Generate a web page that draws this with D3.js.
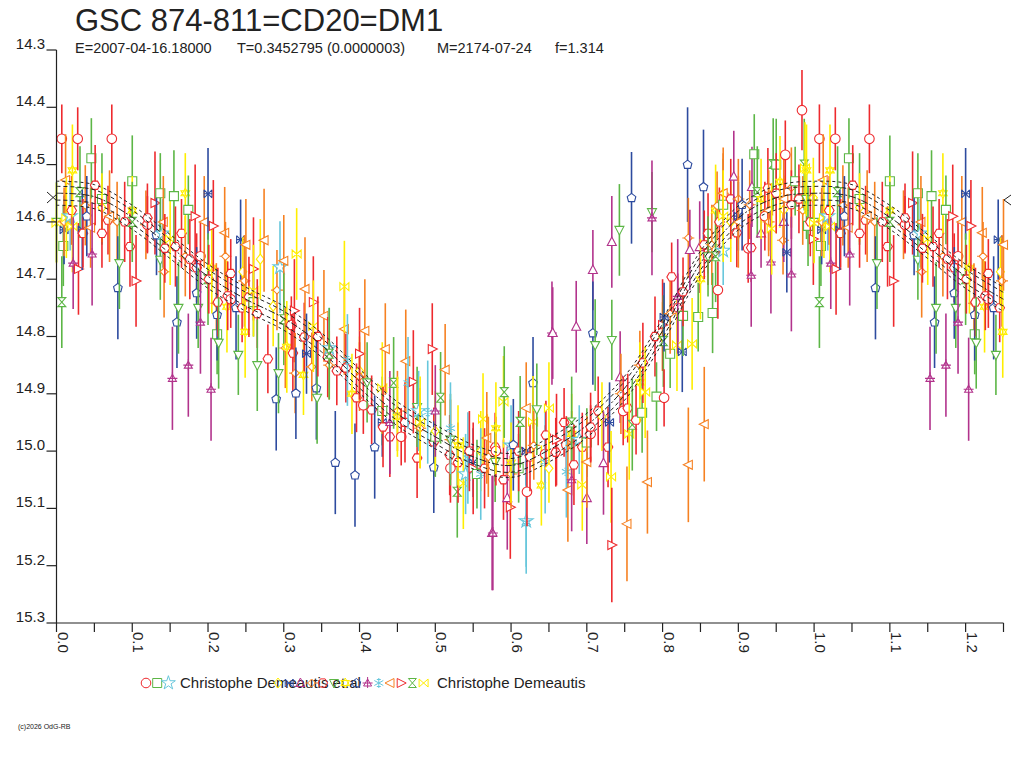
<!doctype html>
<html>
<head>
<meta charset="utf-8">
<script src="https://cdnjs.cloudflare.com/ajax/libs/d3/7.8.5/d3.min.js"></script>
<style>
  body { margin: 0; background: #fff; }
  text { font-family: "Liberation Sans", Arial, sans-serif; fill: #222; }
  .tick-lbl { font-size: 15px; }
</style>
</head>
<body>
<svg id="chart" width="1024" height="768"></svg>
<script>
// ---- data: [phase, mag, error] ----
var redCircle = [[0.007,14.455,0.06],[0.028,14.455,0.055],[0.073,14.455,0.06],[0.984,14.405,0.07],[0.962,14.483,0.06],[0.873,14.719,0.05],[0.913,14.646,0.06],[0.621,15.071,0.06],[0.802,14.907,0.05],[0.673,14.989,0.05],[0.58,15.0,0.06],[0.455,14.975,0.05],[0.31,14.78,0.05],[0.19,14.66,0.06],[0.12,14.605,0.05],[0.52,15.03,0.06],[0.705,14.97,0.05],[0.748,14.93,0.06],[0.405,14.92,0.05],[0.935,14.59,0.06],[0.645,15.005,0.05],[0.86,14.66,0.05],[0.23,14.735,0.05]];
var greenSquare = [[0.046,14.489,0.07],[0.1,14.529,0.08],[0.137,14.55,0.07],[0.155,14.555,0.08],[0.174,14.579,0.06],[0.009,14.642,0.07],[0.921,14.482,0.07],[0.975,14.529,0.06],[0.992,14.607,0.07],[0.827,14.764,0.07],[0.847,14.766,0.06],[0.866,14.759,0.07],[0.81,14.83,0.06],[0.773,14.933,0.07],[0.792,14.905,0.06],[0.212,14.796,0.07],[0.26,14.74,0.06],[0.5,14.975,0.07],[0.61,15.03,0.06],[0.555,15.04,0.06],[0.7,14.985,0.06],[0.43,14.93,0.06],[0.88,14.57,0.08],[0.95,14.5,0.08],[0.06,14.56,0.08]];
var cyanStar = [[0.295,14.679,0.08],[0.62,15.122,0.08],[0.478,14.93,0.07],[0.018,14.59,0.06],[0.36,14.82,0.07],[0.54,15.04,0.07],[0.69,14.98,0.06],[0.88,14.65,0.06],[0.14,14.62,0.06],[0.6,14.99,0.07]];
var yellowDiamond = [[0.269,14.665,0.07],[0.246,14.687,0.06],[0.286,14.747,0.07],[0.96,14.579,0.06],[0.999,14.558,0.07],[0.5,14.965,0.07],[0.4,14.86,0.06],[0.65,15.03,0.06],[0.2,14.7,0.06],[0.8,14.8,0.06],[0.06,14.575,0.06],[0.56,15.0,0.07],[0.72,14.94,0.06],[0.89,14.6,0.07]];
var blueX = [[0.2,14.551,0.08],[0.243,14.631,0.07],[0.01,14.614,0.06],[0.034,14.614,0.07],[0.964,14.653,0.07],[0.826,14.827,0.07],[0.802,14.766,0.06],[0.55,15.02,0.06],[0.43,14.95,0.06],[0.62,15.0,0.06],[0.33,14.83,0.07],[0.9,14.59,0.06],[0.73,14.95,0.07]];
var purpleTri = [[0.894,14.521,0.08],[0.918,14.539,0.07],[0.849,14.644,0.08],[0.836,14.649,0.07],[0.722,15.021,0.09],[0.7,15.082,0.08],[0.595,15.082,0.09],[0.744,14.871,0.08],[0.655,14.794,0.08],[0.686,14.783,0.08],[0.733,14.635,0.08],[0.708,14.684,0.07],[0.575,15.143,0.1],[0.93,14.62,0.06],[0.96,14.6,0.07]];
var orangeDiamond = [[0.038,14.571,0.07],[0.142,14.687,0.08],[0.291,14.719,0.07],[0.211,14.742,0.07],[0.248,14.703,0.08],[0.302,14.82,0.07],[0.337,14.853,0.06],[0.315,14.864,0.07],[0.872,14.572,0.06],[0.88,14.55,0.07],[0.915,14.57,0.06],[0.959,14.632,0.06],[0.834,14.628,0.07],[0.118,14.605,0.06],[0.223,14.66,0.06],[0.08,14.6,0.07],[0.45,14.93,0.07],[0.52,14.98,0.07],[0.63,14.99,0.06],[0.77,14.85,0.06],[0.4,14.87,0.06],[0.6,15.04,0.06],[0.985,14.58,0.06],[0.9,14.56,0.07],[0.94,14.6,0.06],[0.97,14.54,0.07],[0.01,14.6,0.06],[0.17,14.66,0.07],[0.36,14.85,0.06],[0.48,14.96,0.07],[0.57,15.01,0.07],[0.68,14.99,0.06],[0.745,14.9,0.07],[0.81,14.76,0.07],[0.865,14.64,0.07]];
var redHex = [[0.097,14.643,0.07],[0.12,14.593,0.06],[0.157,14.643,0.07],[0.143,14.646,0.06],[0.068,14.597,0.06],[0.051,14.536,0.07],[0.176,14.665,0.07],[0.201,14.7,0.06],[0.226,14.729,0.06],[0.254,14.731,0.07],[0.279,14.839,0.06],[0.312,14.829,0.07],[0.327,14.801,0.06],[0.358,14.836,0.07],[0.382,14.855,0.06],[0.416,14.928,0.06],[0.431,14.958,0.07],[0.396,14.907,0.06],[0.44,14.975,0.07],[0.476,15.012,0.07],[0.498,14.984,0.06],[0.519,15.007,0.07],[0.565,15.03,0.07],[0.579,14.993,0.06],[0.646,14.972,0.06],[0.659,15.002,0.06],[0.683,15.024,0.07],[0.694,14.993,0.06],[0.705,14.958,0.06],[0.728,14.993,0.07],[0.754,14.925,0.06],[0.765,14.946,0.06],[0.774,14.846,0.07],[0.812,14.696,0.06],[0.827,14.722,0.06],[0.898,14.619,0.06],[0.917,14.645,0.06],[0.939,14.541,0.07],[0.213,14.74,0.06],[0.23,14.69,0.06],[0.245,14.75,0.06],[0.02,14.58,0.06],[0.035,14.62,0.06],[0.545,15.0,0.07],[0.61,15.0,0.07],[0.98,14.56,0.06],[0.855,14.64,0.06],[0.86,14.62,0.07],[0.875,14.6,0.06],[0.89,14.56,0.07],[0.95,14.55,0.07],[0.97,14.57,0.06],[0.995,14.6,0.06],[0.06,14.62,0.06],[0.09,14.6,0.07],[0.165,14.62,0.06],[0.185,14.68,0.06],[0.265,14.76,0.06],[0.345,14.8,0.07],[0.37,14.86,0.06],[0.46,14.95,0.07],[0.53,15.02,0.07],[0.59,15.05,0.07],[0.625,15.01,0.06],[0.67,14.95,0.06],[0.715,14.93,0.06],[0.79,14.8,0.07],[0.82,14.75,0.06]];
var greenTriDown = [[0.161,14.75,0.08],[0.187,14.75,0.07],[0.214,14.811,0.08],[0.24,14.832,0.07],[0.265,14.85,0.08],[0.293,14.864,0.07],[0.344,14.907,0.08],[0.137,14.666,0.07],[0.083,14.672,0.08],[0.711,14.815,0.08],[0.733,14.806,0.07],[0.634,14.927,0.08],[0.579,15.019,0.07],[0.476,14.923,0.07],[0.743,14.614,0.08],[0.786,14.583,0.07],[0.52,14.98,0.08],[0.41,14.88,0.07],[0.86,14.66,0.07],[0.99,14.56,0.07],[0.0,14.6,0.07]];
var yellowStar = [[0.304,14.818,0.08],[0.326,14.867,0.07],[0.249,14.792,0.08],[0.225,14.748,0.08],[0.17,14.55,0.07],[0.021,14.51,0.08],[0.39,14.9,0.07],[0.45,14.94,0.07],[0.53,14.99,0.07],[0.6,15.02,0.07],[0.68,14.97,0.07],[0.77,14.88,0.07],[0.85,14.7,0.07],[0.93,14.56,0.07],[0.99,14.51,0.08],[0.1,14.58,0.06],[0.64,15.06,0.07],[0.87,14.58,0.08],[0.955,14.53,0.08],[0.205,14.68,0.08],[0.58,14.96,0.08]];
var bluePent = [[0.132,14.623,0.07],[0.185,14.724,0.08],[0.159,14.775,0.08],[0.212,14.762,0.08],[0.237,14.75,0.09],[0.29,14.909,0.09],[0.316,14.899,0.08],[0.343,14.89,0.09],[0.081,14.715,0.09],[0.394,15.042,0.09],[0.42,14.993,0.09],[0.498,15.028,0.08],[0.629,14.881,0.08],[0.708,14.794,0.09],[0.603,14.989,0.08],[0.759,14.558,0.08],[0.833,14.5,0.1],[0.854,14.539,0.1],[0.368,15.02,0.09],[0.04,14.59,0.07],[0.905,14.57,0.08]];
var purpleTrident = [[0.153,14.873,0.09],[0.174,14.85,0.09],[0.19,14.775,0.09],[0.204,14.892,0.09],[0.047,14.656,0.09],[0.022,14.672,0.08],[0.786,14.593,0.1],[0.943,14.67,0.09],[0.97,14.691,0.1],[0.917,14.693,0.09],[0.654,14.794,0.09],[0.576,15.143,0.1],[0.68,15.05,0.09],[0.5,14.93,0.08],[0.44,14.95,0.09],[0.82,14.73,0.1]];
var cyanAst = [[0.384,14.841,0.08],[0.464,14.881,0.08],[0.543,15.012,0.08],[0.62,15.124,0.09],[0.645,15.019,0.09],[0.673,15.036,0.08],[0.49,14.932,0.09],[0.52,14.96,0.08],[0.56,15.04,0.08]];
var orangeLeft = [[0.222,14.619,0.08],[0.274,14.632,0.09],[0.3,14.668,0.08],[0.328,14.717,0.09],[0.353,14.764,0.08],[0.38,14.787,0.08],[0.407,14.79,0.09],[0.434,14.822,0.08],[0.461,14.843,0.09],[0.513,14.858,0.08],[0.141,14.6,0.08],[0.195,14.6,0.08],[0.62,14.925,0.08],[0.568,14.977,0.08],[0.7,15.019,0.08],[0.675,15.068,0.09],[0.753,15.127,0.1],[0.78,15.054,0.09],[0.855,14.953,0.1],[0.834,15.024,0.1],[0.012,14.527,0.08],[0.045,14.61,0.07],[0.25,14.64,0.08],[0.9,14.6,0.08],[0.94,14.58,0.07],[0.88,14.55,0.08],[0.96,14.56,0.08],[0.07,14.59,0.08]];
var redRight = [[0.13,14.567,0.09],[0.183,14.59,0.09],[0.207,14.607,0.08],[0.26,14.682,0.09],[0.339,14.74,0.08],[0.314,14.755,0.09],[0.496,14.822,0.08],[0.471,14.879,0.09],[0.733,15.164,0.1],[0.599,15.098,0.09],[0.105,14.703,0.08],[0.999,14.63,0.08],[0.029,14.682,0.08],[0.55,15.03,0.08],[0.66,14.98,0.08],[0.8,14.78,0.08],[0.4,14.83,0.08]];
var greenHour = [[0.445,14.881,0.08],[0.507,14.907,0.08],[0.591,14.897,0.08],[0.612,14.949,0.08],[0.529,15.071,0.08],[0.76,14.954,0.08],[0.007,14.74,0.08],[0.946,14.499,0.08],[0.987,14.5,0.08],[0.925,14.548,0.08],[0.031,14.548,0.08],[0.801,14.808,0.08],[0.1,14.6,0.07],[0.2,14.7,0.08],[0.3,14.77,0.08],[0.36,14.83,0.08],[0.68,14.95,0.08],[0.87,14.66,0.08]];
var yellowBow = [[0.317,14.656,0.08],[0.38,14.713,0.08],[0.339,14.782,0.08],[0.59,14.914,0.08],[0.65,14.925,0.08],[0.694,15.059,0.08],[0.732,15.045,0.08],[0.537,15.056,0.08],[0.563,14.944,0.08],[0.629,14.949,0.08],[0.777,14.897,0.08],[0.756,14.97,0.08],[0.819,14.815,0.08],[0.839,14.813,0.08],[0.944,14.612,0.08],[0.988,14.506,0.08],[0.0,14.602,0.07],[0.013,14.593,0.07],[0.021,14.608,0.08],[0.43,14.89,0.08],[0.48,14.95,0.08],[0.26,14.72,0.08],[0.15,14.63,0.08],[0.88,14.59,0.08]];

// fitted light curve
var curvePhase = [0,0.05,0.1,0.15,0.2,0.25,0.3,0.35,0.4,0.45,0.5,0.55,0.6,0.65,0.7,0.75,0.8,0.85,0.9,0.95,1.0];
var curveMag = [14.550,14.556,14.592,14.643,14.695,14.735,14.768,14.815,14.878,14.935,14.975,15.010,15.025,14.998,14.955,14.890,14.790,14.672,14.593,14.558,14.550];

var yTicks = [14.3,14.4,14.5,14.6,14.7,14.8,14.9,15.0,15.1,15.2,15.3];
var xTicks = [0,0.1,0.2,0.3,0.4,0.5,0.6,0.7,0.8,0.9,1.0,1.1,1.2];
var xMinor = [0.05,0.15,0.25,0.35,0.45,0.55,0.65,0.75,0.85,0.95,1.05,1.15,1.25];

var RED = "#ee2a2e", GREEN = "#5cb646", CYAN = "#67c7dc", YELLOW = "#ffee00",
    BLUE = "#2d4b9f", PURPLE = "#b2338c", ORANGE = "#f68122";

var shapes = {
  circle: d3.symbol().type(d3.symbolCircle).size(72)(),
  square: "M-4.5,-4.5H4.5V4.5H-4.5Z",
  star: d3.symbol().type(d3.symbolStar).size(60)(),
  diamond: "M0,-5L4,0L0,5L-4,0Z",
  boxx: "M-4,-4L-4,4M4,-4L4,4M-4,-4L4,4M4,-4L-4,4M-4,0L4,0",
  triup: "M0,-5L4.5,3.5L-4.5,3.5Z",
  diamondTick: "M0,-4L4,0L0,4L-4,0ZM-6,0H-4M4,0H6",
  hex: "M4.8,0L2.4,-4.1L-2.4,-4.1L-4.8,0L-2.4,4.1L2.4,4.1Z",
  tridown: "M-4.5,-3.5L4.5,-3.5L0,5Z",
  david: "M0,-5L4.3,2.5L-4.3,2.5ZM0,5L4.3,-2.5L-4.3,-2.5Z",
  pent: "M0,-4.5L4.3,-1.2L3,3.8L-3,3.8L-4.3,-1.2Z",
  trident: "M0,-4L4,3L-4,3ZM0,-6V5M-5,0H5",
  ast: "M0,-5V5M-4.5,-2.5L4.5,2.5M-4.5,2.5L4.5,-2.5M-2,-3.5H2M-2,3.5H2",
  tleft: "M-5,0L4,-4.5V4.5Z",
  tright: "M5,0L-4,-4.5V4.5Z",
  hour: "M-4,-4.5H4L-4,4.5H4Z",
  bow: "M-4.5,-4V4L4.5,-4V4Z"
};

var series = [
  {data: redCircle, color: RED, shape: "circle"},
  {data: greenSquare, color: GREEN, shape: "square"},
  {data: cyanStar, color: CYAN, shape: "star"},
  {data: yellowDiamond, color: YELLOW, shape: "diamond"},
  {data: blueX, color: BLUE, shape: "boxx"},
  {data: purpleTri, color: PURPLE, shape: "triup"},
  {data: orangeDiamond, color: ORANGE, shape: "diamondTick"},
  {data: redHex, color: RED, shape: "hex"},
  {data: greenTriDown, color: GREEN, shape: "tridown"},
  {data: yellowStar, color: YELLOW, shape: "david"},
  {data: bluePent, color: BLUE, shape: "pent"},
  {data: purpleTrident, color: PURPLE, shape: "trident"},
  {data: cyanAst, color: CYAN, shape: "ast"},
  {data: orangeLeft, color: ORANGE, shape: "tleft"},
  {data: redRight, color: RED, shape: "tright"},
  {data: greenHour, color: GREEN, shape: "hour"},
  {data: yellowBow, color: YELLOW, shape: "bow"}
];

var svg = d3.select("#chart");
var x = d3.scaleLinear().domain([0, 1.25]).range([56.5, 1003.5]);
var y = d3.scaleLinear().domain([14.3, 15.3]).range([50, 623]);

// title block
svg.append("text").attr("x", 75).attr("y", 31).style("font-size", "31px").text("GSC 874-811=CD20=DM1");
var sub = [["E=2007-04-16.18000", 75], ["T=0.3452795 (0.0000003)", 237], ["M=2174-07-24", 437], ["f=1.314", 555]];
svg.selectAll("text.sub").data(sub).enter().append("text")
  .attr("class", "sub").attr("x", d => d[1]).attr("y", 53)
  .style("font-size", "14.5px").text(d => d[0]);

// points, phase-folded and repeated past 1.0
var pts = [];
series.forEach(function(s) {
  s.data.forEach(function(p) {
    pts.push({p: p[0], m: p[1], e: p[2], s: s});
    if (p[0] + 1 <= 1.25) pts.push({p: p[0] + 1, m: p[1], e: p[2], s: s});
  });
});
pts.sort((a, b) => a.p - b.p);

var gPts = svg.append("g");
var pg = gPts.selectAll("g").data(pts).enter().append("g")
  .attr("transform", d => "translate(" + x(d.p) + "," + y(d.m) + ")");
pg.append("line")
  .attr("y1", d => y(d.m - d.e) - y(d.m)).attr("y2", d => y(d.m + d.e) - y(d.m))
  .attr("stroke", d => d.s.color).attr("stroke-width", 1.6);
pg.append("path").attr("d", d => shapes[d.s.shape])
  .attr("fill", "#fff").attr("stroke", d => d.s.color).attr("stroke-width", 1.1);

// fitted curve with its bands
var cPts = curvePhase.map((p, i) => [p, curveMag[i]]);
curvePhase.forEach(function(p, i) { if (p > 0 && p + 1 <= 1.26) cPts.push([p + 1, curveMag[i]]); });
var line = d3.line().x(d => x(d[0])).y(d => y(d[1])).curve(d3.curveCatmullRom);
var bands = [[0, "7,2,2,2"], [-0.012, "4,3"], [0.012, "4,3"], [-0.021, "3,3"], [0.021, "3,3"]];
svg.append("g").selectAll("path").data(bands).enter().append("path")
  .attr("d", b => line(cPts.filter(d => d[0] <= 1.25).map(d => [d[0], d[1] + b[0]])))
  .attr("fill", "none").attr("stroke", "#222").attr("stroke-width", 1)
  .attr("stroke-dasharray", b => b[1]);
// small end markers of the fit
svg.append("path").attr("d", "M47,192L57,201M47,203L57,194").attr("stroke", "#222").attr("fill", "none");
svg.append("path").attr("d", "M1011,195L1004,200L1011,205").attr("stroke", "#222").attr("fill", "none");

// axes
var ax = svg.append("g").attr("stroke", "#222").attr("stroke-width", 1.2);
ax.append("line").attr("x1", x(0)).attr("x2", x(0)).attr("y1", y(14.3)).attr("y2", y(15.3));
ax.append("line").attr("x1", x(0)).attr("x2", x(1.25)).attr("y1", y(15.3)).attr("y2", y(15.3));
ax.selectAll("line.yt").data(yTicks).enter().append("line").attr("class", "yt")
  .attr("x1", x(0) - 10).attr("x2", x(0)).attr("y1", d => y(d)).attr("y2", d => y(d));
ax.selectAll("line.xt").data(xTicks.concat(xMinor)).enter().append("line").attr("class", "xt")
  .attr("x1", d => x(d)).attr("x2", d => x(d)).attr("y1", y(15.3)).attr("y2", y(15.3) + 9);

svg.selectAll("text.yl").data(yTicks).enter().append("text").attr("class", "yl tick-lbl")
  .attr("x", 45).attr("y", d => y(d) - 1).attr("text-anchor", "end")
  .text(d => d.toFixed(1));
svg.selectAll("text.xl").data(xTicks).enter().append("text").attr("class", "xl tick-lbl")
  .attr("transform", d => "translate(" + (x(d) + 1) + ",632) rotate(90)")
  .text(d => d.toFixed(1));

// legend
var lg = svg.append("g");
var legA = series.slice(0, 3), legB = series.slice(3);
lg.selectAll("path.a").data(legA).enter().append("path")
  .attr("transform", (d, i) => "translate(" + (146 + i * 11.2) + ",683)")
  .attr("d", d => shapes[d.shape]).attr("fill", "#fff").attr("stroke", d => d.color);
lg.append("text").attr("x", 180).attr("y", 688).style("font-size", "15px").text("Christophe Demeautis et.al");
lg.selectAll("path.b").data(legB).enter().append("path")
  .attr("transform", (d, i) => "translate(" + (278 + i * 11.2) + ",683)")
  .attr("d", d => shapes[d.shape]).attr("fill", "none").attr("stroke", d => d.color);
lg.append("text").attr("x", 437).attr("y", 688).style("font-size", "15px").text("Christophe Demeautis");

svg.append("text").attr("x", 18).attr("y", 729).style("font-size", "7px").text("(c)2026 OdG-RB");
</script>
</body>
</html>
